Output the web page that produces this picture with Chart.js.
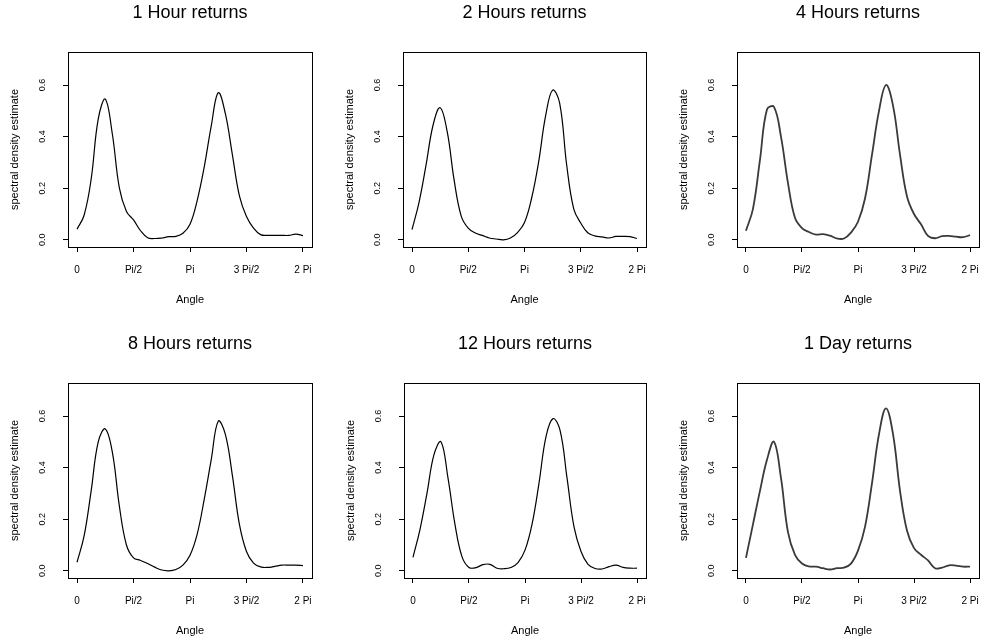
<!DOCTYPE html>
<html>
<head>
<meta charset="utf-8">
<title>Spectral density estimates</title>
<script src="https://cdn.jsdelivr.net/npm/chart.js@4.4.1/dist/chart.umd.min.js"></script>
<style>
  html, body { margin: 0; padding: 0; background: #fff; }
  body { width: 981px; height: 641px; overflow: hidden; position: relative; }
  canvas { position: absolute; }
</style>
</head>
<body>
<script>
const titles = ['1 Hour returns', '2 Hours returns', '4 Hours returns', '8 Hours returns', '12 Hours returns', '1 Day returns'];

// angle of each estimate, in multiples of Pi
const anglePi = [0, 0.0625, 0.125, 0.1875, 0.25, 0.3125, 0.375, 0.4375, 0.5, 0.5625, 0.625, 0.6875,
    0.75, 0.8125, 0.875, 0.9375, 1, 1.0625, 1.125, 1.1875, 1.25, 1.3125, 1.375, 1.4375,
    1.5, 1.5625, 1.625, 1.6875, 1.75, 1.8125, 1.875, 1.9375, 2];

const hour1 = [0.041, 0.095, 0.235, 0.468, 0.545, 0.41, 0.20, 0.11, 0.077, 0.035, 0.008, 0.005, 0.007,
    0.012, 0.013, 0.025, 0.06, 0.15, 0.28, 0.44, 0.57, 0.49, 0.33, 0.17, 0.09, 0.045, 0.02, 0.017,
    0.017, 0.017, 0.017, 0.022, 0.016];
const hours2 = [0.039, 0.145, 0.29, 0.445, 0.512, 0.42, 0.23, 0.092, 0.045, 0.026, 0.017, 0.007, 0.003,
    0.0, 0.007, 0.028, 0.067, 0.16, 0.30, 0.48, 0.58, 0.53, 0.29, 0.12, 0.065, 0.027, 0.015, 0.011,
    0.007, 0.013, 0.013, 0.012, 0.005];
const hours4 = [0.035, 0.12, 0.31, 0.505, 0.515, 0.40, 0.22, 0.085, 0.045, 0.03, 0.02, 0.022, 0.016,
    0.005, 0.005, 0.028, 0.07, 0.16, 0.33, 0.50, 0.60, 0.52, 0.33, 0.168, 0.10, 0.06, 0.015, 0.006,
    0.014, 0.015, 0.012, 0.01, 0.018];
const hours8 = [0.033, 0.135, 0.31, 0.50, 0.55, 0.46, 0.25, 0.10, 0.05, 0.04, 0.028, 0.014, 0.003,
    0.0, 0.005, 0.022, 0.06, 0.14, 0.275, 0.43, 0.58, 0.53, 0.37, 0.18, 0.075, 0.03, 0.015, 0.013,
    0.017, 0.022, 0.022, 0.022, 0.02];
const hours12 = [0.052, 0.16, 0.30, 0.45, 0.50, 0.36, 0.18, 0.055, 0.013, 0.012, 0.024, 0.025, 0.01,
    0.008, 0.013, 0.032, 0.08, 0.18, 0.34, 0.52, 0.59, 0.545, 0.36, 0.17, 0.075, 0.025, 0.009, 0.007,
    0.016, 0.022, 0.013, 0.01, 0.01];
const day1 = [0.05, 0.18, 0.31, 0.43, 0.50, 0.36, 0.15, 0.062, 0.028, 0.017, 0.016, 0.01, 0.005,
    0.01, 0.012, 0.028, 0.078, 0.17, 0.34, 0.53, 0.63, 0.53, 0.31, 0.155, 0.088, 0.062, 0.04, 0.01,
    0.012, 0.021, 0.02, 0.016, 0.016];
const series = [hour1, hours2, hours4, hours8, hours12, day1];

const xTickValues = [0, Math.PI / 2, Math.PI, 3 * Math.PI / 2, 2 * Math.PI];
const xTickLabels = ['0', 'Pi/2', 'Pi', '3 Pi/2', '2 Pi'];
const yTickValues = [0, 0.2, 0.4, 0.6];
const yTickLabels = ['0.0', '0.2', '0.4', '0.6'];

// plot box of every panel, page pixels
const boxes = [
    {left: 68, top: 52, width: 244, height: 195},
    {left: 403, top: 52, width: 243, height: 195},
    {left: 737, top: 52, width: 242, height: 195},
    {left: 68, top: 383, width: 244, height: 195},
    {left: 404, top: 383, width: 242, height: 195},
    {left: 737, top: 383, width: 242, height: 195}
];
const lineStyles = [
    {color: '#000', width: 1.2},
    {color: '#000', width: 1.2},
    {color: '#3a3a3a', width: 1.8},
    {color: '#000', width: 1.2},
    {color: '#000', width: 1.2},
    {color: '#3a3a3a', width: 1.8}
];

const FONT = "'Liberation Sans', Arial, Helvetica, sans-serif";
const Y_AXIS_W = 68, TITLE_H = 52, X_AXIS_H = 73, RIGHT_PAD = 12;

// R style box round the plot region
const boxPlugin = {
    id: 'plotBox',
    afterDraw(chart) {
        let a = chart.chartArea;
        let ctx = chart.ctx;
        ctx.save();
        ctx.strokeStyle = '#000';
        ctx.lineWidth = 1;
        ctx.strokeRect(Math.round(a.left) + 0.5, Math.round(a.top) + 0.5,
            Math.round(a.right - a.left), Math.round(a.bottom - a.top));
        ctx.restore();
    }
};

function makePanel(i) {
    let b = boxes[i];
    let canvas = document.createElement('canvas');
    canvas.width = b.width + Y_AXIS_W + RIGHT_PAD;
    canvas.height = b.height + TITLE_H + X_AXIS_H;
    canvas.style.left = (b.left - Y_AXIS_W) + 'px';
    canvas.style.top = (b.top - TITLE_H) + 'px';
    document.body.appendChild(canvas);

    new Chart(canvas, {
        type: 'line',
        data: {
            datasets: [{
                data: anglePi.map((a, k) => ({x: a * Math.PI, y: series[i][k]})),
                borderColor: lineStyles[i].color,
                borderWidth: lineStyles[i].width,
                tension: 0.4,
                pointRadius: 0,
                fill: false
            }]
        },
        options: {
            responsive: false,
            animation: false,
            devicePixelRatio: 1,
            layout: {padding: {left: 0, right: RIGHT_PAD, top: 0, bottom: 0}},
            plugins: {
                legend: {display: false},
                tooltip: {enabled: false},
                title: {
                    display: true,
                    text: titles[i],
                    color: '#000',
                    fullSize: false,
                    font: {family: FONT, size: 18, weight: 'normal'},
                    padding: {top: 2, bottom: 28.4}
                }
            },
            scales: {
                x: {
                    type: 'linear',
                    min: -0.08 * Math.PI,
                    max: 2.08 * Math.PI,
                    afterBuildTicks: s => { s.ticks = xTickValues.map(v => ({value: v})); },
                    afterFit: s => { s.height = X_AXIS_H; s.paddingLeft = 0; s.paddingRight = 0; },
                    border: {display: false},
                    grid: {drawOnChartArea: false, drawTicks: true, tickLength: 5, color: '#000', lineWidth: 1},
                    ticks: {
                        color: '#000', font: {family: FONT, size: 10}, padding: 12,
                        maxRotation: 0, autoSkip: false,
                        callback: (v, k) => xTickLabels[k]
                    },
                    title: {
                        display: true, text: 'Angle', color: '#000',
                        font: {family: FONT, size: 11}, padding: {top: 0, bottom: 13.4}
                    }
                },
                y: {
                    type: 'linear',
                    min: -0.028,
                    max: 0.728,
                    afterBuildTicks: s => { s.ticks = yTickValues.map(v => ({value: v})); },
                    afterFit: s => { s.width = Y_AXIS_W; },
                    border: {display: false},
                    grid: {drawOnChartArea: false, drawTicks: true, tickLength: 5, color: '#000', lineWidth: 1},
                    ticks: {
                        color: '#000', font: {family: FONT, size: 9}, padding: 14,
                        minRotation: 90, maxRotation: 90, crossAlign: 'center', autoSkip: false,
                        callback: (v, k) => yTickLabels[k]
                    },
                    title: {
                        display: true, text: 'spectral density estimate', color: '#000',
                        font: {family: FONT, size: 11}, padding: {top: 8.4, bottom: 0}
                    }
                }
            }
        },
        plugins: [boxPlugin]
    });
}

for (let i = 0; i < boxes.length; i++) {
    makePanel(i);
}
</script>
</body>
</html>
